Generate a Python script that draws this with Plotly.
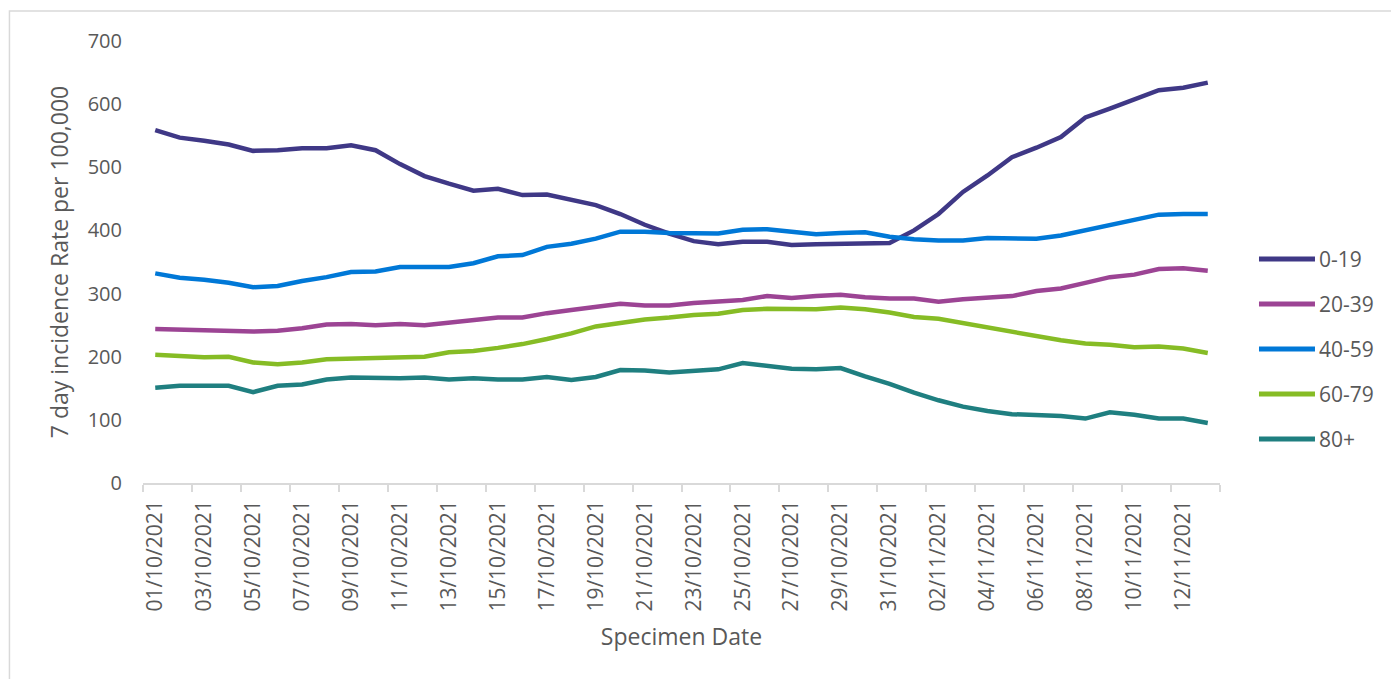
import datetime as dt
import plotly.graph_objects as go

# Specimen dates: 01/10/2021 .. 13/11/2021
start = dt.date(2021, 10, 1)
dates = [(start + dt.timedelta(days=i)).strftime("%d/%m/%Y") for i in range(44)]

age_groups = ["0-19", "20-39", "40-59", "60-79", "80+"]

rate_0_19 = [559, 547, 542, 536, 526, 527, 530, 530, 535, 527, 505, 486, 474, 463,
             466, 456, 457, 448, 440, 426, 409, 395, 383, 378, 382, 382, 377, 378,
             379, 380, 380, 400, 426, 461, 487, 516, 531, 548, 579, 593, 608, 622,
             626, 634]
rate_20_39 = [244, 243, 242, 240, 240, 241, 245, 251, 252, 250, 252, 250, 254, 258,
              262, 262, 269, 274, 279, 284, 281, 281, 285, 287, 290, 296, 293, 296,
              298, 294, 292, 292, 287, 291, 293, 296, 304, 308, 317, 326, 330, 339,
              340, 336]
rate_40_59 = [332, 325, 322, 317, 310, 312, 320, 326, 334, 335, 342, 342, 342, 348,
              359, 361, 374, 379, 387, 398, 398, 396, 395, 395, 401, 402, 398, 394,
              396, 397, 390, 386, 384, 384, 388, 388, 387, 392, 400, 408, 417, 425,
              426, 426]
rate_60_79 = [203, 201, 199, 200, 191, 188, 191, 196, 197, 199, 200, 200, 207, 209,
              214, 220, 228, 237, 248, 254, 259, 262, 266, 268, 274, 276, 276, 275,
              278, 275, 270, 263, 260, 253, 247, 239, 233, 226, 221, 219, 215, 216,
              213, 206]
rate_80_plus = [151, 154, 154, 154, 144, 154, 156, 164, 167, 166, 166, 167, 164, 166,
                164, 164, 168, 163, 168, 179, 178, 175, 177, 180, 190, 185, 181, 180,
                182, 169, 157, 143, 131, 121, 114, 109, 108, 106, 102, 112, 108, 102,
                102, 95]

series = [rate_0_19, rate_20_39, rate_40_59, rate_60_79, rate_80_plus]
colors = ["#3F3886", "#9C4494", "#0078D7", "#86BC25", "#1F7F80"]

FONT = "Open Sans"
TEXT = "#595959"
GRID = "#D9D9D9"

fig = go.Figure()
for name, vals, col in zip(age_groups, series, colors):
    fig.add_trace(go.Scatter(
        x=dates, y=vals, name=name, mode="lines",
        line=dict(color=col, width=4.5),
        showlegend=False,
    ))

# Legend drawn as line samples with labels to the right of the plot
leg_x0, leg_x1, leg_tx = 1.0362, 1.0882, 1.0905
leg_y0, leg_dy = 0.5068, 0.1018
shapes = []
annotations = []
for k, (name, col) in enumerate(zip(age_groups, colors)):
    yy = leg_y0 - k * leg_dy
    shapes.append(dict(type="line", xref="paper", yref="paper",
                       x0=leg_x0, x1=leg_x1, y0=yy, y1=yy,
                       line=dict(color=col, width=5)))
    annotations.append(dict(xref="paper", yref="paper", x=leg_tx, y=yy,
                            text=name, showarrow=False, xanchor="left",
                            yanchor="middle",
                            font=dict(family=FONT, size=21, color=TEXT)))

# Outer chart frame
shapes.append(dict(type="rect", xref="paper", yref="paper",
                   x0=-0.124, x1=1.17, y0=-0.46, y1=1.068,
                   line=dict(color=GRID, width=1.5), layer="below"))

fig.update_layout(
    width=1391, height=679,
    margin=dict(l=143, r=171, t=41, b=196),
    plot_bgcolor="white", paper_bgcolor="white",
    font=dict(family=FONT, size=20, color=TEXT),
    shapes=shapes, annotations=annotations,
    xaxis=dict(
        type="category",
        range=[-0.5, 43.5],
        dtick=2,
        tickson="boundaries",
        ticks="outside", ticklen=7, tickcolor=GRID, tickwidth=1.5,
        tickangle=-90,
        ticklabelstandoff=7,
        showline=True, linecolor=GRID, linewidth=1.5,
        showgrid=False, zeroline=False,
        tickfont=dict(family=FONT, size=21, color=TEXT),
        title=dict(text="Specimen Date", standoff=18,
                   font=dict(family=FONT, size=23, color=TEXT)),
    ),
    yaxis=dict(
        range=[0, 700], dtick=100,
        showline=False, showgrid=False, zeroline=False,
        ticks="outside", ticklen=16, tickcolor="rgba(0,0,0,0)",
        tickfont=dict(family=FONT, size=20, color=TEXT),
        title=dict(text="7 day incidence Rate per 100,000", standoff=12,
                   font=dict(family=FONT, size=23, color=TEXT)),
    ),
)

fig.write_html("out.html")
